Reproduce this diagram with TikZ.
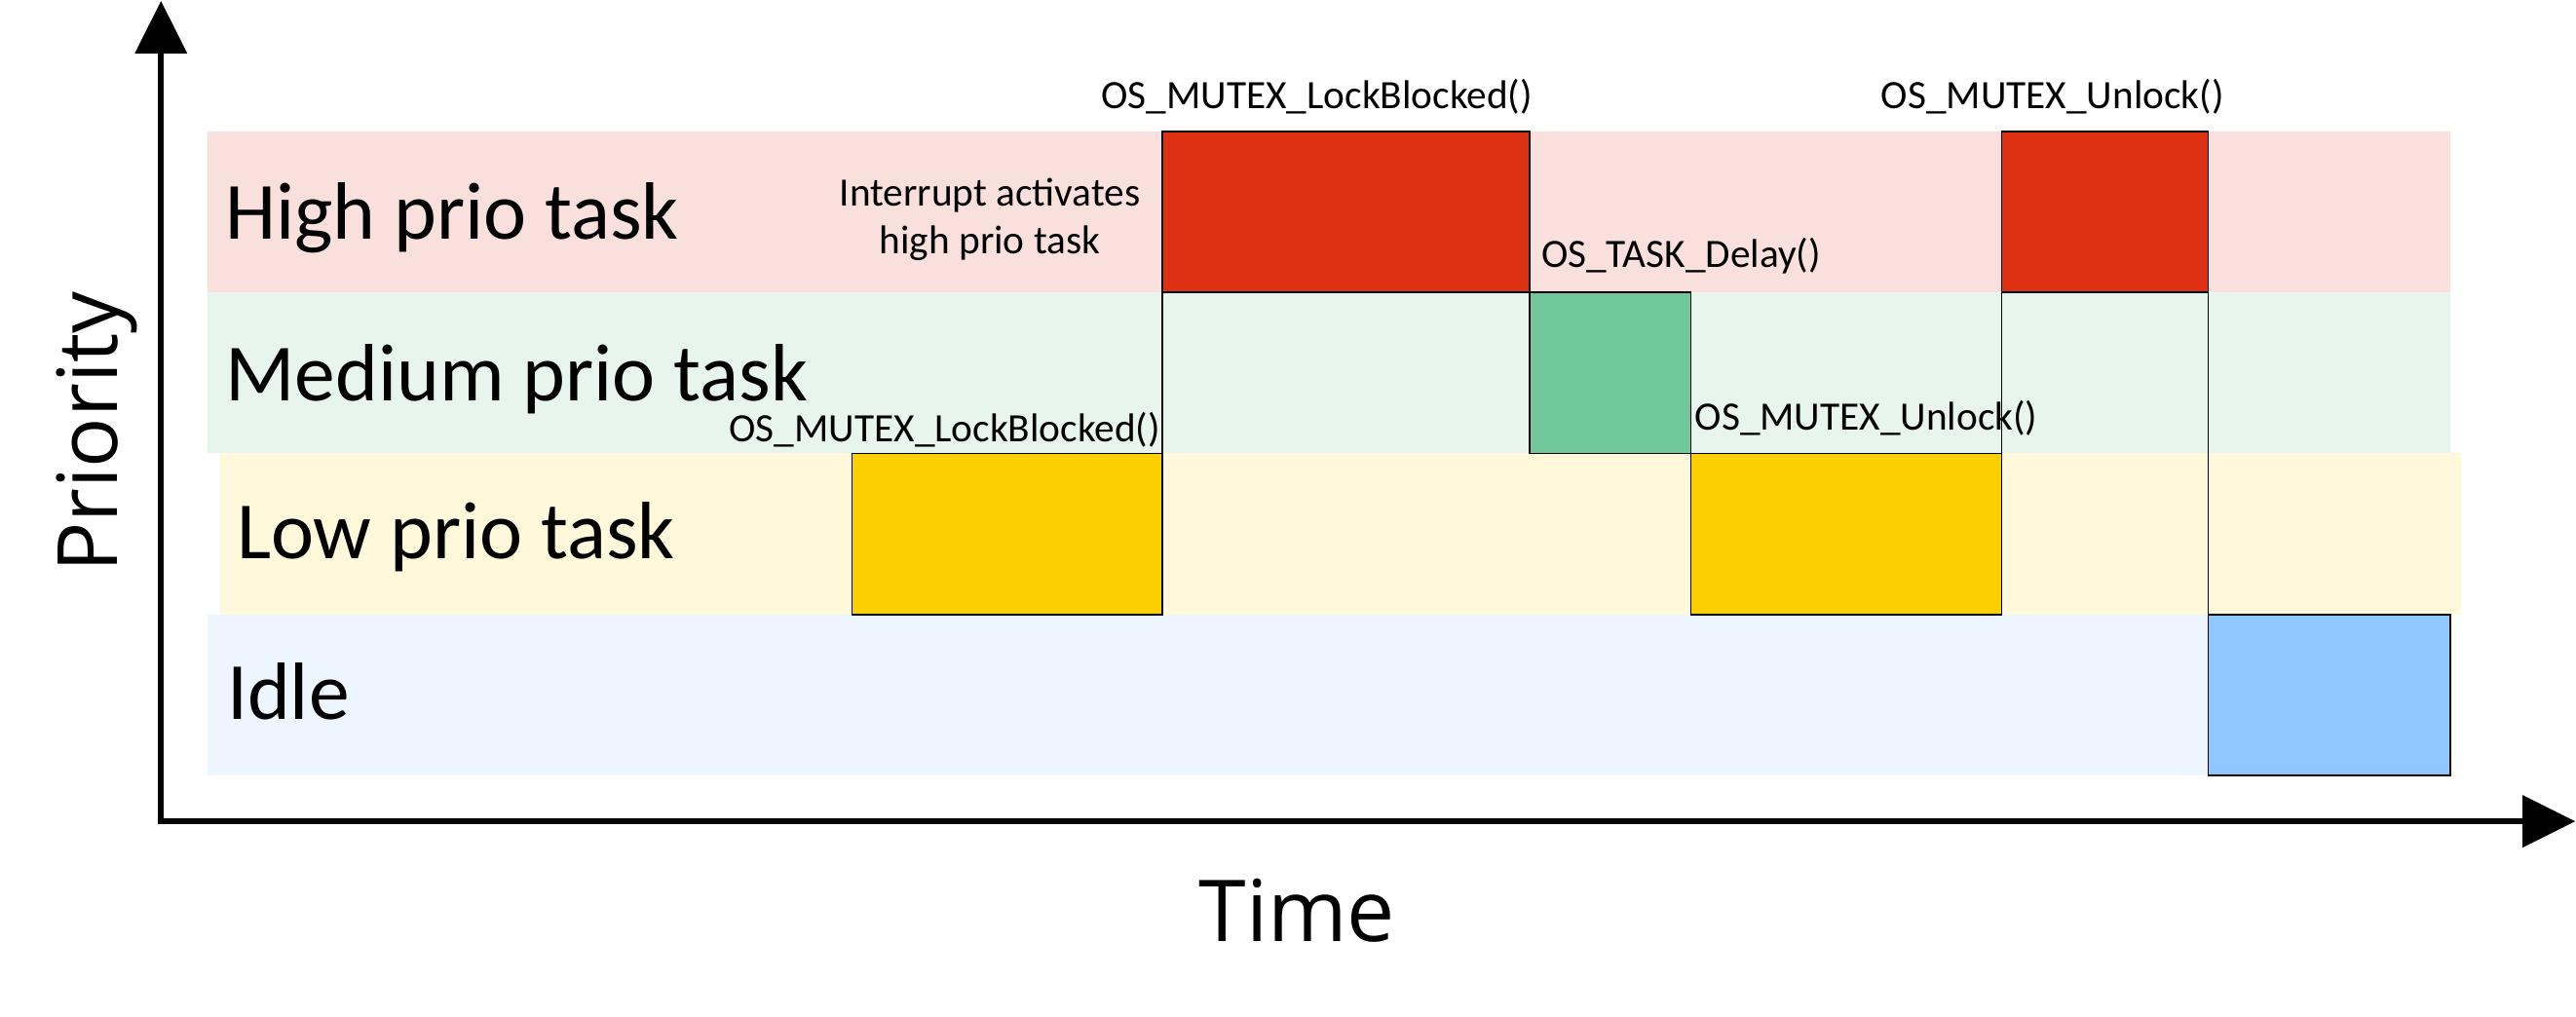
\documentclass[tikz,border=0pt]{standalone}
\usepackage{fontspec}
\usetikzlibrary{arrows.meta}
\newfontfamily\carl{Carlito}
\newfontfamily\osans{Open Sans}
\definecolor{bandhigh}{RGB}{249,224,220}
\definecolor{bandmed}{RGB}{232,245,238}
\definecolor{bandlow}{RGB}{255,248,218}
\definecolor{bandidle}{RGB}{237,245,254}
\definecolor{runred}{RGB}{222,48,19}
\definecolor{rungreen}{RGB}{112,199,154}
\definecolor{runyellow}{RGB}{252,208,0}
\definecolor{runblue}{RGB}{142,200,254}
\begin{document}
\begin{tikzpicture}[x=1pt,y=-1pt,
  axis/.style={line width=3.5pt,{Triangle[length=32pt,width=31pt]}-{Triangle[length=32pt,width=31pt]}},
  runbox/.style={draw=black,line width=1pt},
  trace/.style={draw=black,line width=1pt},
  lane/.style={font=\carl\fontsize{49.5}{58}\selectfont,inner sep=0pt,anchor=base west},
  call/.style={font=\carl\fontsize{24.5}{29}\selectfont,inner sep=0pt},
  axlabel/.style={font=\osans\fontsize{52}{62}\selectfont,inner sep=0pt,anchor=base}]
\useasboundingbox (0,0) rectangle (1568,619);
% bands
\fill[bandhigh] (126.6,80) rectangle (1491.5,178);
\fill[bandmed] (126.6,178) rectangle (1491.5,276);
\fill[bandlow] (133.8,276) rectangle (1498,374);
\fill[bandidle] (126.6,374) rectangle (1344.2,472);
% running boxes
\filldraw[runbox,fill=runred] (707.5,80) rectangle (931.2,178);
\filldraw[runbox,fill=runred] (1218.3,80) rectangle (1344.2,178);
\filldraw[runbox,fill=rungreen] (931.2,178) rectangle (1029.3,276);
\filldraw[runbox,fill=runyellow] (518.6,276) rectangle (707.5,374);
\filldraw[runbox,fill=runyellow] (1029.3,276) rectangle (1218.3,374);
\filldraw[runbox,fill=runblue] (1344.2,374) rectangle (1491.5,472);
% trace lines
\coordinate (t1a) at (707.5,178);
\coordinate (t1b) at (707.5,276);
\coordinate (t2a) at (1218.3,178);
\coordinate (t2b) at (1218.3,276);
\coordinate (t3a) at (1344.2,178);
\coordinate (t3b) at (1344.2,374);
\draw[trace] (t1a) -- (t1b);
\draw[trace] (t2a) -- (t2b);
\draw[trace] (t3a) -- (t3b);
% axes
\coordinate (O) at (98,500);
\coordinate (ytip) at (98,0.5);
\coordinate (xtip) at (1567.5,500);
\draw[axis,line join=miter] (ytip) -- (O) -- (xtip);
% lane labels
\node[lane] (lhigh) at (137,145.5) {High prio task};
\node[lane] (lmed) at (137,244) {Medium prio task};
\node[lane] (llow) at (144,340) {Low prio task};
\node[lane] (lidle) at (138,437.8) {Idle};
% call labels
\node[call,anchor=base] (c1) at (801.6,66.2) {OS\_MUTEX\_LockBlocked()};
\node[call,anchor=base] (c2) at (1249.4,66.2) {OS\_MUTEX\_Unlock()};
\node[call,anchor=base] (int1) at (602.5,125.5) {Interrupt activates};
\node[call,anchor=base] (int2) at (602.5,154.6) {high prio task};
\node[call,anchor=base west] (c3) at (938,163) {OS\_TASK\_Delay()};
\node[call,anchor=base west] (c4) at (1031.5,262) {OS\_MUTEX\_Unlock()};
\node[call,anchor=base east] (c5) at (706.5,268.9) {OS\_MUTEX\_LockBlocked()};
% axis labels
\node[axlabel,rotate=90,font=\osans\fontsize{50.6}{60}\selectfont] (prio) at (71.5,263) {Priority};
\node[axlabel] (time) at (789.5,573) {Time};
\end{tikzpicture}
\end{document}
